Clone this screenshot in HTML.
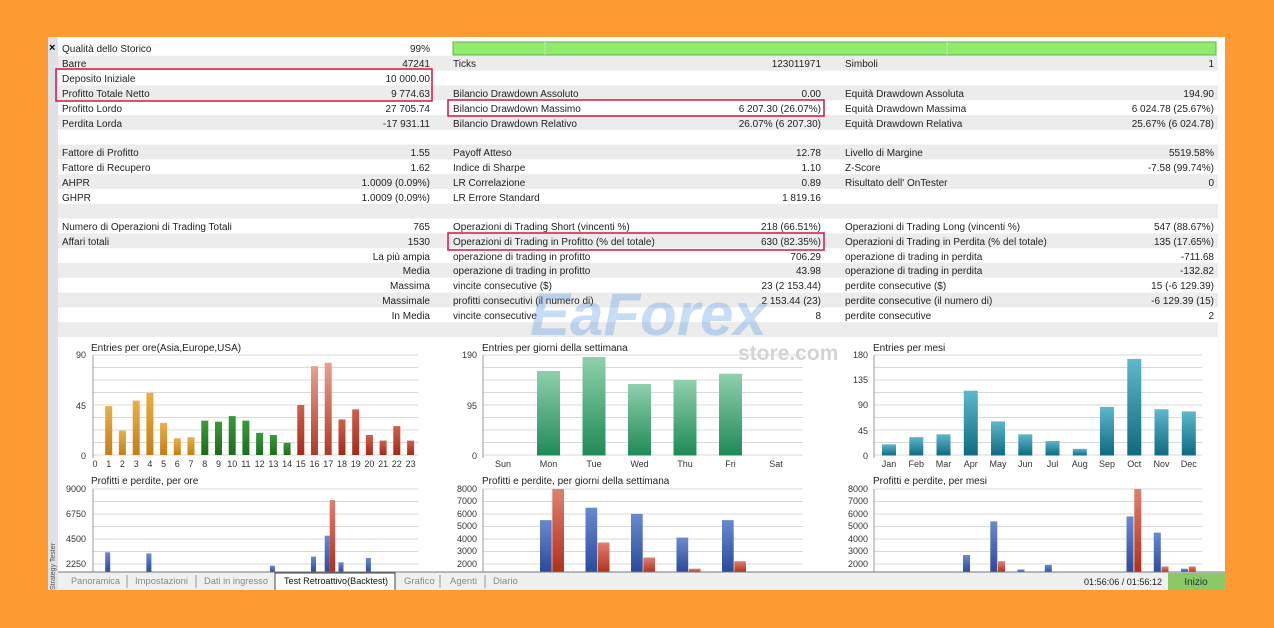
<!DOCTYPE html>
<html><head><meta charset="utf-8"><style>
html,body{margin:0;padding:0;background:#fd9a32;}
svg{display:block;font-family:"Liberation Sans",sans-serif;}
.t{font-size:10px;fill:#222;}
.r{text-anchor:end;}
.ax{font-size:9px;fill:#333;}
.c{text-anchor:middle;}
.g{stroke:#d8d8d8;stroke-width:1;}
</style></head><body>
<svg width="1274" height="628" viewBox="0 0 1274 628">
<defs>
<linearGradient id="or" x1="0" y1="0" x2="0" y2="1"><stop offset="0" stop-color="#eab04a"/><stop offset="1" stop-color="#c47d12"/></linearGradient>
<linearGradient id="gr" x1="0" y1="0" x2="0" y2="1"><stop offset="0" stop-color="#3a9a3a"/><stop offset="1" stop-color="#1d6b1d"/></linearGradient>
<linearGradient id="rd" x1="0" y1="0" x2="0" y2="1"><stop offset="0" stop-color="#d0604a"/><stop offset="1" stop-color="#a42a1a"/></linearGradient>
<linearGradient id="rp" x1="0" y1="0" x2="0" y2="1"><stop offset="0" stop-color="#e8a090"/><stop offset="1" stop-color="#b03a28"/></linearGradient>
<linearGradient id="gg" x1="0" y1="0" x2="0" y2="1"><stop offset="0" stop-color="#8fd0ad"/><stop offset="1" stop-color="#1f8a55"/></linearGradient>
<linearGradient id="tl" x1="0" y1="0" x2="0" y2="1"><stop offset="0" stop-color="#5fb8cc"/><stop offset="1" stop-color="#0d6a80"/></linearGradient>
<linearGradient id="bl" x1="0" y1="0" x2="0" y2="1"><stop offset="0" stop-color="#6a8ad0"/><stop offset="1" stop-color="#2a4a9a"/></linearGradient>
<linearGradient id="rr" x1="0" y1="0" x2="0" y2="1"><stop offset="0" stop-color="#e08070"/><stop offset="1" stop-color="#b0301c"/></linearGradient>
</defs>
<rect x="0" y="0" width="1274" height="628" fill="#fd9a32"/>
<rect x="48" y="37" width="1177" height="553" fill="#fff"/>
<rect x="48" y="37" width="10" height="553" fill="#dde2e8"/>
<text x="49" y="51" style="font-size:11px;font-weight:bold">×</text>
<text transform="translate(55,590) rotate(-90)" style="font-size:7px;fill:#555">Strategy Tester</text>

<g fill="#ececec">
<rect x="58" y="55.8" width="1160" height="14.8"/>
<rect x="58" y="85.4" width="1160" height="14.8"/>
<rect x="58" y="115" width="1160" height="14.8"/>
<rect x="58" y="144.6" width="1160" height="14.8"/>
<rect x="58" y="174.2" width="1160" height="14.8"/>
<rect x="58" y="203.8" width="1160" height="14.8"/>
<rect x="58" y="233.4" width="1160" height="14.8"/>
<rect x="58" y="263" width="1160" height="14.8"/>
<rect x="58" y="292.6" width="1160" height="14.8"/>
<rect x="58" y="322.2" width="1160" height="14.8"/>
</g>
<rect x="453" y="42" width="763" height="13" fill="#90ec6c" stroke="#6aa84f"/>
<line x1="545" y1="42" x2="545" y2="55" stroke="#c8e8b8"/><line x1="947" y1="42" x2="947" y2="55" stroke="#c8e8b8"/>

<g class="t">
<text x="62" y="52">Qualità dello Storico</text><text class="r" x="430" y="52">99%</text>
<text x="62" y="67">Barre</text><text class="r" x="430" y="67">47241</text><text x="453" y="67">Ticks</text><text class="r" x="821" y="67">123011971</text><text x="845" y="67">Simboli</text><text class="r" x="1214" y="67">1</text>
<text x="62" y="82">Deposito Iniziale</text><text class="r" x="430" y="82">10 000.00</text>
<text x="62" y="97">Profitto Totale Netto</text><text class="r" x="430" y="97">9 774.63</text><text x="453" y="97">Bilancio Drawdown Assoluto</text><text class="r" x="821" y="97">0.00</text><text x="845" y="97">Equità Drawdown Assoluta</text><text class="r" x="1214" y="97">194.90</text>
<text x="62" y="112">Profitto Lordo</text><text class="r" x="430" y="112">27 705.74</text><text x="453" y="112">Bilancio Drawdown Massimo</text><text class="r" x="821" y="112">6 207.30 (26.07%)</text><text x="845" y="112">Equità Drawdown Massima</text><text class="r" x="1214" y="112">6 024.78 (25.67%)</text>
<text x="62" y="127">Perdita Lorda</text><text class="r" x="430" y="127">-17 931.11</text><text x="453" y="127">Bilancio Drawdown Relativo</text><text class="r" x="821" y="127">26.07% (6 207.30)</text><text x="845" y="127">Equità Drawdown Relativa</text><text class="r" x="1214" y="127">25.67% (6 024.78)</text>
<text x="62" y="156">Fattore di Profitto</text><text class="r" x="430" y="156">1.55</text><text x="453" y="156">Payoff Atteso</text><text class="r" x="821" y="156">12.78</text><text x="845" y="156">Livello di Margine</text><text class="r" x="1214" y="156">5519.58%</text>
<text x="62" y="171">Fattore di Recupero</text><text class="r" x="430" y="171">1.62</text><text x="453" y="171">Indice di Sharpe</text><text class="r" x="821" y="171">1.10</text><text x="845" y="171">Z-Score</text><text class="r" x="1214" y="171">-7.58 (99.74%)</text>
<text x="62" y="186">AHPR</text><text class="r" x="430" y="186">1.0009 (0.09%)</text><text x="453" y="186">LR Correlazione</text><text class="r" x="821" y="186">0.89</text><text x="845" y="186">Risultato dell' OnTester</text><text class="r" x="1214" y="186">0</text>
<text x="62" y="201">GHPR</text><text class="r" x="430" y="201">1.0009 (0.09%)</text><text x="453" y="201">LR Errore Standard</text><text class="r" x="821" y="201">1 819.16</text>
<text x="62" y="230">Numero di Operazioni di Trading Totali</text><text class="r" x="430" y="230">765</text><text x="453" y="230">Operazioni di Trading Short (vincenti %)</text><text class="r" x="821" y="230">218 (66.51%)</text><text x="845" y="230">Operazioni di Trading Long (vincenti %)</text><text class="r" x="1214" y="230">547 (88.67%)</text>
<text x="62" y="245">Affari totali</text><text class="r" x="430" y="245">1530</text><text x="453" y="245">Operazioni di Trading in Profitto (% del totale)</text><text class="r" x="821" y="245">630 (82.35%)</text><text x="845" y="245">Operazioni di Trading in Perdita (% del totale)</text><text class="r" x="1214" y="245">135 (17.65%)</text>
<text class="r" x="430" y="260">La più ampia</text><text x="453" y="260">operazione di trading in profitto</text><text class="r" x="821" y="260">706.29</text><text x="845" y="260">operazione di trading in perdita</text><text class="r" x="1214" y="260">-711.68</text>
<text class="r" x="430" y="274">Media</text><text x="453" y="274">operazione di trading in profitto</text><text class="r" x="821" y="274">43.98</text><text x="845" y="274">operazione di trading in perdita</text><text class="r" x="1214" y="274">-132.82</text>
<text class="r" x="430" y="289">Massima</text><text x="453" y="289">vincite consecutive ($)</text><text class="r" x="821" y="289">23 (2 153.44)</text><text x="845" y="289">perdite consecutive ($)</text><text class="r" x="1214" y="289">15 (-6 129.39)</text>
<text class="r" x="430" y="304">Massimale</text><text x="453" y="304">profitti consecutivi (il numero di)</text><text class="r" x="821" y="304">2 153.44 (23)</text><text x="845" y="304">perdite consecutive (il numero di)</text><text class="r" x="1214" y="304">-6 129.39 (15)</text>
<text class="r" x="430" y="319">In Media</text><text x="453" y="319">vincite consecutive</text><text class="r" x="821" y="319">8</text><text x="845" y="319">perdite consecutive</text><text class="r" x="1214" y="319">2</text>
</g>
<g fill="none" stroke="#d6163e" stroke-width="1.5">
<rect x="56" y="69" width="376" height="32"/>
<rect x="448" y="100" width="376" height="16"/>
<rect x="448" y="233" width="376" height="17"/>
</g>

<text x="530" y="335" style="font-size:60px;font-weight:bold;fill:#4a8fe0;opacity:0.3;font-style:italic">EaForex</text>
<text x="738" y="360" style="font-size:21px;font-weight:bold;fill:#666;opacity:0.28">store.com</text>

<g class="g">
<line x1="93" y1="355" x2="418" y2="355"/><line x1="93" y1="367.5" x2="418" y2="367.5"/><line x1="93" y1="380" x2="418" y2="380"/><line x1="93" y1="392.5" x2="418" y2="392.5"/><line x1="93" y1="405" x2="418" y2="405"/><line x1="93" y1="417.5" x2="418" y2="417.5"/><line x1="93" y1="430" x2="418" y2="430"/><line x1="93" y1="442.5" x2="418" y2="442.5"/><line x1="93" y1="455" x2="418" y2="455"/>
<line x1="483" y1="355" x2="803" y2="355"/><line x1="483" y1="367.5" x2="803" y2="367.5"/><line x1="483" y1="380" x2="803" y2="380"/><line x1="483" y1="392.5" x2="803" y2="392.5"/><line x1="483" y1="405" x2="803" y2="405"/><line x1="483" y1="417.5" x2="803" y2="417.5"/><line x1="483" y1="430" x2="803" y2="430"/><line x1="483" y1="442.5" x2="803" y2="442.5"/><line x1="483" y1="455" x2="803" y2="455"/>
<line x1="874" y1="355" x2="1202" y2="355"/><line x1="874" y1="367.5" x2="1202" y2="367.5"/><line x1="874" y1="380" x2="1202" y2="380"/><line x1="874" y1="392.5" x2="1202" y2="392.5"/><line x1="874" y1="405" x2="1202" y2="405"/><line x1="874" y1="417.5" x2="1202" y2="417.5"/><line x1="874" y1="430" x2="1202" y2="430"/><line x1="874" y1="442.5" x2="1202" y2="442.5"/><line x1="874" y1="455" x2="1202" y2="455"/>
<line x1="93" y1="489" x2="418" y2="489"/><line x1="93" y1="501.5" x2="418" y2="501.5"/><line x1="93" y1="514" x2="418" y2="514"/><line x1="93" y1="526.5" x2="418" y2="526.5"/><line x1="93" y1="539" x2="418" y2="539"/><line x1="93" y1="551.5" x2="418" y2="551.5"/><line x1="93" y1="564" x2="418" y2="564"/>
<line x1="483" y1="489" x2="803" y2="489"/><line x1="483" y1="501.5" x2="803" y2="501.5"/><line x1="483" y1="514" x2="803" y2="514"/><line x1="483" y1="526.5" x2="803" y2="526.5"/><line x1="483" y1="539" x2="803" y2="539"/><line x1="483" y1="551.5" x2="803" y2="551.5"/><line x1="483" y1="564" x2="803" y2="564"/>
<line x1="874" y1="489" x2="1202" y2="489"/><line x1="874" y1="501.5" x2="1202" y2="501.5"/><line x1="874" y1="514" x2="1202" y2="514"/><line x1="874" y1="526.5" x2="1202" y2="526.5"/><line x1="874" y1="539" x2="1202" y2="539"/><line x1="874" y1="551.5" x2="1202" y2="551.5"/><line x1="874" y1="564" x2="1202" y2="564"/>
</g>
<g stroke="#999">
<line x1="93" y1="355" x2="93" y2="458"/><line x1="483" y1="355" x2="483" y2="458"/><line x1="874" y1="355" x2="874" y2="458"/>
<line x1="93" y1="489" x2="93" y2="572"/><line x1="483" y1="489" x2="483" y2="572"/><line x1="874" y1="489" x2="874" y2="572"/>
</g>

<g style="font-size:10px;fill:#222">
<text x="91" y="351">Entries per ore(Asia,Europe,USA)</text>
<text x="482" y="351">Entries per giorni della settimana</text>
<text x="873" y="351">Entries per mesi</text>
<text x="91" y="484">Profitti e perdite, per ore</text>
<text x="482" y="484">Profitti e perdite, per giorni della settimana</text>
<text x="873" y="484">Profitti e perdite, per mesi</text>
</g>
<g class="ax r">
<text x="86" y="358">90</text><text x="86" y="409">45</text><text x="86" y="459">0</text>
<text x="477" y="358">190</text><text x="477" y="409">95</text><text x="477" y="459">0</text>
<text x="868" y="358">180</text><text x="868" y="383">135</text><text x="868" y="408">90</text><text x="868" y="434">45</text><text x="868" y="459">0</text>
<text x="86" y="492">9000</text><text x="86" y="517">6750</text><text x="86" y="542">4500</text><text x="86" y="567">2250</text>
<text x="477" y="492">8000</text><text x="477" y="504">7000</text><text x="477" y="517">6000</text><text x="477" y="529">5000</text><text x="477" y="542">4000</text><text x="477" y="554">3000</text><text x="477" y="567">2000</text>
<text x="868" y="492">8000</text><text x="868" y="504">7000</text><text x="868" y="517">6000</text><text x="868" y="529">5000</text><text x="868" y="542">4000</text><text x="868" y="554">3000</text><text x="868" y="567">2000</text>
</g>
<g class="ax c">
<text x="95" y="467">0</text><text x="108.7" y="467">1</text><text x="122.4" y="467">2</text><text x="136.2" y="467">3</text><text x="149.9" y="467">4</text><text x="163.6" y="467">5</text><text x="177.3" y="467">6</text><text x="191" y="467">7</text><text x="204.8" y="467">8</text><text x="218.5" y="467">9</text><text x="232.2" y="467">10</text><text x="245.9" y="467">11</text><text x="259.6" y="467">12</text><text x="273.4" y="467">13</text><text x="287.1" y="467">14</text><text x="300.8" y="467">15</text><text x="314.5" y="467">16</text><text x="328.2" y="467">17</text><text x="342" y="467">18</text><text x="355.7" y="467">19</text><text x="369.4" y="467">20</text><text x="383.1" y="467">21</text><text x="396.8" y="467">22</text><text x="410.6" y="467">23</text>
<text x="503" y="467">Sun</text><text x="548.5" y="467">Mon</text><text x="594" y="467">Tue</text><text x="639.5" y="467">Wed</text><text x="685" y="467">Thu</text><text x="730.5" y="467">Fri</text><text x="776" y="467">Sat</text>
<text x="889" y="467">Jan</text><text x="916.3" y="467">Feb</text><text x="943.5" y="467">Mar</text><text x="970.8" y="467">Apr</text><text x="998" y="467">May</text><text x="1025.3" y="467">Jun</text><text x="1052.5" y="467">Jul</text><text x="1079.8" y="467">Aug</text><text x="1107" y="467">Sep</text><text x="1134.3" y="467">Oct</text><text x="1161.5" y="467">Nov</text><text x="1188.8" y="467">Dec</text>
</g>

<g fill="url(#or)">
<rect x="105.2" y="406.1" width="7" height="48.9"/><rect x="118.9" y="430.6" width="7" height="24.4"/><rect x="132.7" y="400.6" width="7" height="54.4"/><rect x="146.4" y="392.8" width="7" height="62.2"/><rect x="160.1" y="422.8" width="7" height="32.2"/><rect x="173.8" y="438.3" width="7" height="16.7"/><rect x="187.5" y="437.2" width="7" height="17.8"/>
</g>
<g fill="url(#gr)">
<rect x="201.3" y="420.6" width="7" height="34.4"/><rect x="215" y="421.7" width="7" height="33.3"/><rect x="228.7" y="416.1" width="7" height="38.9"/><rect x="242.4" y="420.6" width="7" height="34.4"/><rect x="256.1" y="432.8" width="7" height="22.2"/><rect x="269.9" y="435" width="7" height="20"/><rect x="283.6" y="442.8" width="7" height="12.2"/>
</g>
<g fill="url(#rd)">
<rect x="297.3" y="405" width="7" height="50"/><rect x="338.5" y="419.4" width="7" height="35.6"/><rect x="352.2" y="409.4" width="7" height="45.6"/><rect x="365.9" y="435" width="7" height="20"/><rect x="379.6" y="440.6" width="7" height="14.4"/><rect x="393.3" y="426.1" width="7" height="28.9"/><rect x="407.1" y="440.6" width="7" height="14.4"/>
</g>
<g fill="url(#rp)"><rect x="311" y="366.1" width="7" height="88.9"/><rect x="324.7" y="362.8" width="7" height="92.2"/></g>

<g fill="url(#gg)">
<rect x="537" y="371" width="23" height="84.5"/><rect x="582.5" y="357" width="23" height="98.5"/><rect x="628" y="384" width="23" height="71.5"/><rect x="673.5" y="380" width="23" height="75.5"/><rect x="719" y="373.7" width="23" height="81.8"/>
</g>
<g fill="url(#tl)">
<rect x="882" y="444.3" width="14" height="11.2"/><rect x="909.3" y="437.1" width="14" height="18.4"/><rect x="936.5" y="434.3" width="14" height="21.2"/><rect x="963.8" y="390.7" width="14" height="64.8"/><rect x="991" y="421.4" width="14" height="34.1"/><rect x="1018.3" y="434.3" width="14" height="21.2"/><rect x="1045.5" y="441" width="14" height="14.5"/><rect x="1072.8" y="448.8" width="14" height="6.7"/><rect x="1100" y="406.9" width="14" height="48.6"/><rect x="1127.3" y="358.9" width="14" height="96.6"/><rect x="1154.5" y="409.2" width="14" height="46.3"/><rect x="1181.8" y="411.4" width="14" height="44.1"/>
</g>

<g fill="url(#bl)">
<rect x="105.2" y="552.3" width="5" height="20"/><rect x="146.4" y="553.4" width="5" height="19"/><rect x="269.9" y="565.7" width="5" height="7"/><rect x="311" y="556.6" width="5" height="16"/><rect x="324.7" y="535.7" width="5" height="37"/><rect x="338.5" y="562.3" width="5" height="10"/><rect x="365.9" y="557.9" width="5" height="15"/>
<rect x="540" y="520.1" width="11.7" height="52"/><rect x="585.5" y="507.7" width="11.7" height="65"/><rect x="631" y="513.9" width="11.7" height="59"/><rect x="676.5" y="537.6" width="11.7" height="35"/><rect x="722" y="520.1" width="11.7" height="52"/>
<rect x="963" y="555" width="7" height="17"/><rect x="990.3" y="521.4" width="7" height="51"/><rect x="1017.5" y="569.5" width="7" height="3"/><rect x="1044.8" y="564.9" width="7" height="8"/><rect x="1126.5" y="516.4" width="7" height="56"/><rect x="1153.8" y="532.6" width="7" height="40"/><rect x="1181" y="568.7" width="7" height="4"/>
</g>
<g fill="url(#rr)">
<rect x="329.7" y="500.1" width="5.5" height="72"/>
<rect x="552.3" y="489" width="11.7" height="83"/><rect x="597.8" y="542.5" width="11.7" height="30"/><rect x="643.3" y="557.5" width="11.7" height="15"/><rect x="688.8" y="568.7" width="11.7" height="4"/><rect x="734.3" y="561.2" width="11.7" height="11"/>
<rect x="998" y="561.2" width="7" height="11"/><rect x="1134.3" y="489" width="7" height="83"/><rect x="1161.5" y="566.5" width="7" height="6"/><rect x="1188.8" y="566.5" width="7" height="6"/>
</g>

<rect x="58" y="572" width="1167" height="18" fill="#eef0f2"/>
<line x1="58" y1="572" x2="1225" y2="572" stroke="#777"/>
<path d="M275 590 V573 H395 V590" fill="#fff" stroke="#444"/>
<g style="font-size:9.5px;fill:#888">
<text x="71" y="584" textLength="49" lengthAdjust="spacingAndGlyphs">Panoramica</text>
<text x="135" y="584" textLength="53" lengthAdjust="spacingAndGlyphs">Impostazioni</text>
<text x="204" y="584" textLength="64" lengthAdjust="spacingAndGlyphs">Dati in ingresso</text>
<text x="404" y="584">Grafico</text><text x="450" y="584">Agenti</text><text x="493" y="584">Diario</text>
</g>
<g stroke="#999"><line x1="127" y1="575" x2="127" y2="588"/><line x1="196" y1="575" x2="196" y2="588"/><line x1="440" y1="575" x2="440" y2="588"/><line x1="485" y1="575" x2="485" y2="588"/></g>
<text x="284" y="584" style="font-size:9.5px;fill:#111" textLength="104" lengthAdjust="spacingAndGlyphs">Test Retroattivo(Backtest)</text>
<text x="1084" y="585" style="font-size:9.5px;fill:#222" textLength="78" lengthAdjust="spacingAndGlyphs">01:56:06 / 01:56:12</text>
<rect x="1168" y="573" width="57" height="17" fill="#8cc865"/>
<text x="1196" y="585" class="c" style="font-size:10px;fill:#234">Inizio</text>
</svg>
</body></html>
